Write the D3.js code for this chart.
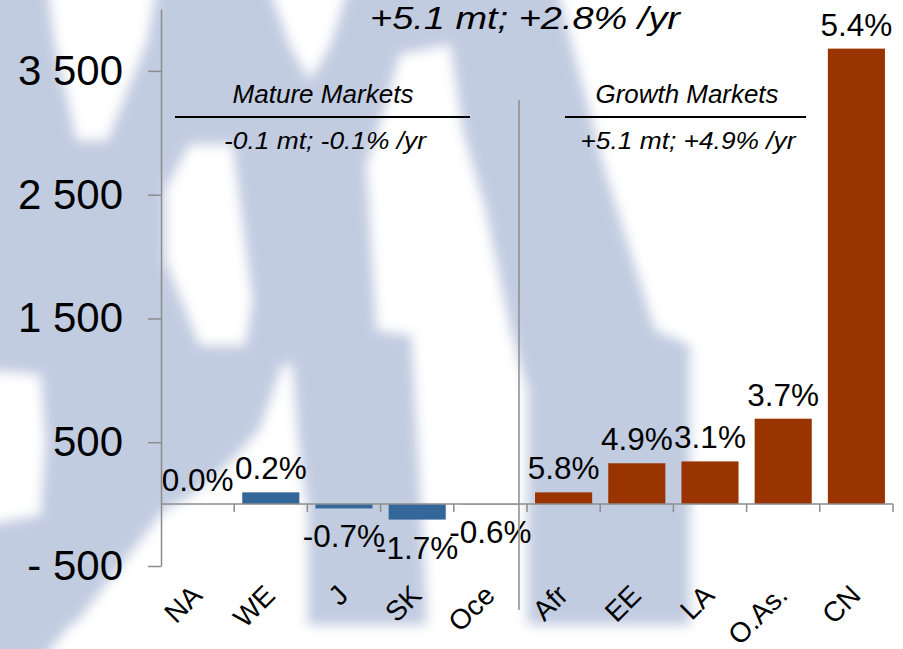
<!DOCTYPE html>
<html><head><meta charset="utf-8">
<script src="https://cdn.jsdelivr.net/npm/d3@7"></script>
<style>
body{margin:0;background:#fff}
svg{display:block}
text{font-family:"Liberation Sans",Arial,sans-serif;fill:#000}
</style>
</head><body>
<svg id="chart" width="903" height="649"></svg>
<script>
// ---- data ----
const categories = ["NA","WE","J","SK","Oce","Afr","EE","LA","O.As.","CN"];
const groups = ["mature","mature","mature","mature","mature","growth","growth","growth","growth","growth"];
const values = [0, 95, -35, -125, -3, 95, 330, 345, 690, 3680];
const growthLabels = ["0.0%","0.2%","-0.7%","-1.7%","-0.6%","5.8%","4.9%","3.1%","3.7%","5.4%"];
const yTicks = [-500, 500, 1500, 2500, 3500];
const yTickLabels = ["- 500","500","1 500","2 500","3 500"];
const title = "+5.1 mt; +2.8% /yr";
const groupTitles = ["Mature Markets","Growth Markets"];
const groupSubtitles = ["-0.1 mt; -0.1% /yr","+5.1 mt; +4.9% /yr"];

// ---- styles ----
const colors = {mature:"#336699", growth:"#993300"};
const axisColor = "#8c8c8c";

const svg = d3.select("#chart");

// ---- background watermark (decorative) ----
const defs = svg.append("defs");
defs.append("filter").attr("id","blur").attr("filterUnits","userSpaceOnUse")
  .attr("x",-50).attr("y",-50).attr("width",1000).attr("height",750)
  .append("feGaussianBlur").attr("stdDeviation",6);
const wm = svg.append("g").attr("filter","url(#blur)");
const wmBlue = [
  [[-20,-20],[555,-20],[605,170],[655,330],[690,345],[690,625],[-20,625]],
  [[-20,600],[90,600],[35,670],[-20,670]]
];
const wmWhite = [
  [[47,-20],[157,-20],[147,40],[107,140],[77,140],[55,40]],
  [[-20,370],[40,375],[45,440],[40,515],[-20,525]],
  [[267,-20],[350,-20],[330,45],[310,80],[290,45]],
  [[190,145],[232,145],[252,300],[245,345],[200,345],[166,260],[166,190]],
  [[283,365],[292,365],[297,430],[300,463],[307,505],[307,670],[40,670],[165,510],[190,497],[230,463],[260,430]],
  [[400,55],[450,45],[462,130],[485,210],[510,330],[527,390],[527,670],[427,670],[427,600],[412,335],[377,330],[367,165],[385,110]]
];
wm.selectAll("path.b").data(wmBlue).join("path").attr("class","b").attr("d",d=>"M"+d.join("L")+"Z").attr("fill","#c2cce1");
wm.selectAll("path.w").data(wmWhite).join("path").attr("class","w").attr("d",d=>"M"+d.join("L")+"Z").attr("fill","#ffffff");

// ---- scales ----
const x = d3.scaleBand().domain(categories).range([161, 893]).paddingInner(0.22).paddingOuter(0.11);
const y = d3.scaleLinear().domain([-500, 4000]).range([566, 9]);
const step = x.step();
const boundary = i => x(categories[0]) - step * 0.11 + i * step;

// ---- bars ----
svg.append("g").selectAll("rect").data(values).join("rect")
  .attr("x",(d,i)=>x(categories[i]))
  .attr("width",x.bandwidth())
  .attr("y",d=>y(Math.max(0,d)))
  .attr("height",d=>Math.abs(y(d)-y(0)))
  .attr("fill",(d,i)=>colors[groups[i]]);

// ---- y axis ----
const yAxis = svg.append("g").attr("transform",`translate(${x.range()[0]},0)`)
  .call(d3.axisLeft(y).tickValues(yTicks).tickFormat((d,i)=>yTickLabels[i]).tickSize(13).tickSizeOuter(0).tickPadding(25));
yAxis.select(".domain").attr("stroke",axisColor).attr("stroke-width",1.5);
yAxis.selectAll(".tick line").attr("stroke",axisColor).attr("stroke-width",1.5);
yAxis.selectAll(".tick text").style("font-size","42px").attr("fill","#000");

// ---- x axis line and ticks ----
const xa = svg.append("g");
xa.append("line").attr("x1",x.range()[0]).attr("x2",x.range()[1]).attr("y1",y(0)).attr("y2",y(0))
  .attr("stroke",axisColor).attr("stroke-width",1.5);
xa.selectAll("line.t").data(d3.range(1, categories.length+1)).join("line").attr("class","t")
  .attr("x1",i=>boundary(i)).attr("x2",i=>boundary(i)).attr("y1",y(0)).attr("y2",y(0)+8)
  .attr("stroke",axisColor).attr("stroke-width",1.5);
xa.selectAll("text").data(categories).join("text")
  .attr("transform",c=>`translate(${x(c)+x.bandwidth()/2+6},597) rotate(-45)`)
  .attr("text-anchor","end").style("font-size","28px").text(c=>c);

// ---- value labels ----
svg.append("g").selectAll("text").data(values).join("text")
  .attr("x",(d,i)=>x(categories[i])+x.bandwidth()/2)
  .attr("y",d=> d>=0 ? y(d)-13 : y(d)+39)
  .attr("text-anchor","middle").style("font-size","31.5px")
  .text((d,i)=>growthLabels[i]);

// ---- divider ----
const divX = boundary(5) - 8;
svg.append("line").attr("x1",divX).attr("x2",divX).attr("y1",100).attr("y2",610)
  .attr("stroke",axisColor).attr("stroke-width",1.5);

// ---- group annotations ----
const ann = [
  {t:groupTitles[0], s:groupSubtitles[0], x1:175, x2:470, tw:181, sw:202, tc:323, sc:325},
  {t:groupTitles[1], s:groupSubtitles[1], x1:565, x2:806, tw:183, sw:215, tc:687, sc:688}
];
const ga = svg.append("g");
ann.forEach(a=>{
  ga.append("text").attr("x",a.tc).attr("y",103).attr("text-anchor","middle")
    .style("font-size","25px").style("font-style","italic")
    .attr("textLength",a.tw).attr("lengthAdjust","spacingAndGlyphs").text(a.t);
  ga.append("line").attr("x1",a.x1).attr("x2",a.x2).attr("y1",117).attr("y2",117)
    .attr("stroke","#000").attr("stroke-width",2);
  ga.append("text").attr("x",a.sc).attr("y",149).attr("text-anchor","middle")
    .style("font-size","24px").style("font-style","italic")
    .attr("textLength",a.sw).attr("lengthAdjust","spacingAndGlyphs").text(a.s);
});

// ---- title ----
svg.append("text").attr("x",525).attr("y",29).attr("text-anchor","middle")
  .style("font-size","32px").style("font-style","italic")
  .attr("textLength",310).attr("lengthAdjust","spacingAndGlyphs").text(title);
</script>
</body></html>
